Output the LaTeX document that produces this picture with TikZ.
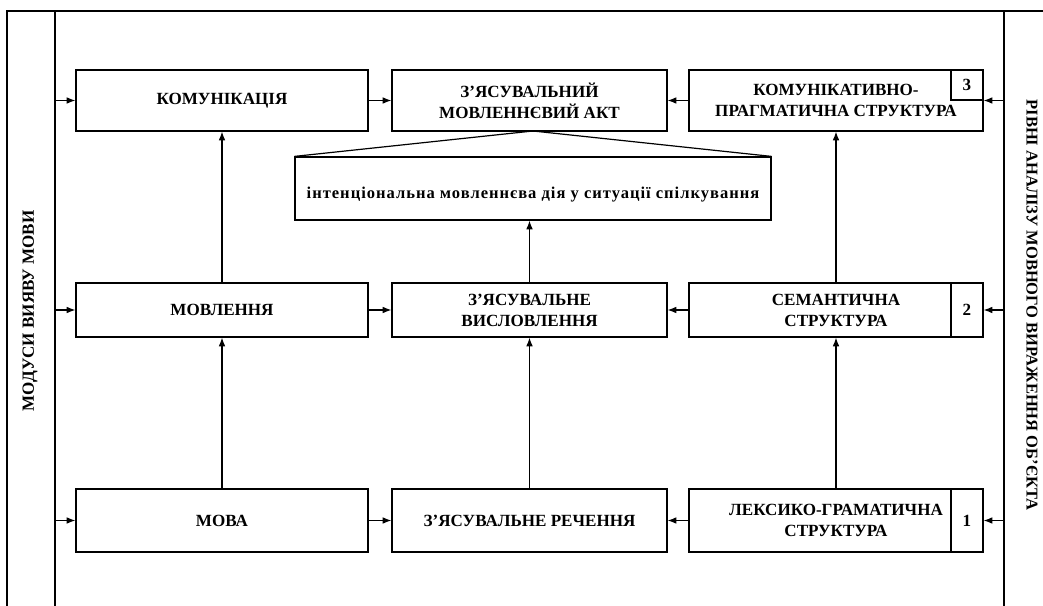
\documentclass[tikz,border=0pt]{standalone}
\usepackage{fontspec}
\setmainfont{Liberation Serif}
\usetikzlibrary{arrows.meta,calc}
\begin{document}
\begin{tikzpicture}[x=0.75pt,y=-0.75pt,
  line width=0.9pt,
  every node/.style={font=\fontsize{12.8}{15.8}\selectfont\bfseries},
  box/.style={draw,rectangle,inner sep=0pt,align=center},
  numbox/.style={draw,rectangle,inner sep=0pt,minimum width=24pt},
  arr/.style={-{Latex[length=6.5pt,width=5pt]}},
  frame/.style={line width=0.9pt}
]
\useasboundingbox (0,0) rectangle (1043,606);
% frame
\coordinate (OL) at (7,11);
\coordinate (OLb) at (7,606);
\coordinate (IL) at (55,11);
\coordinate (ILb) at (55,606);
\coordinate (RL) at (1004,11);
\coordinate (RLb) at (1004,606);
\coordinate (TR) at (1043,11);
\draw[frame] (OLb) -- (OL) -- (TR);
\draw[frame] (IL) -- (ILb);
\draw[frame] (RL) -- (RLb);
% boxes
\node[box,minimum width=219pt,minimum height=45.75pt] (kom) at (222,100.5) {КОМУНІКАЦІЯ};
\node[box,minimum width=206.25pt,minimum height=45.75pt] (zakt) at (529.5,100.5) {З’ЯСУВАЛЬНИЙ\\МОВЛЕННЄВИЙ АКТ};
\node[box,minimum width=220.5pt,minimum height=45.75pt] (kp) at (836,100.5) {КОМУНІКАТИВНО-\\ПРАГМАТИЧНА СТРУКТУРА};
\node[numbox,minimum height=22.5pt,anchor=north east] (n3) at (kp.north east) {3};

\node[box,minimum width=219pt,minimum height=40.5pt] (movl) at (222,310) {МОВЛЕННЯ};
\node[box,minimum width=206.25pt,minimum height=40.5pt] (zvys) at (529.5,310) {З’ЯСУВАЛЬНЕ\\ВИСЛОВЛЕННЯ};
\node[box,minimum width=220.5pt,minimum height=40.5pt] (sem) at (836,310) {СЕМАНТИЧНА\\СТРУКТУРА};
\node[numbox,minimum height=40.5pt,anchor=east] (n2) at (sem.east) {2};

\node[box,minimum width=219pt,minimum height=47.25pt] (mova) at (222,520.5) {МОВА};
\node[box,minimum width=206.25pt,minimum height=47.25pt] (zrech) at (529.5,520.5) {З’ЯСУВАЛЬНЕ РЕЧЕННЯ};
\node[box,minimum width=220.5pt,minimum height=47.25pt] (lex) at (836,520.5) {ЛЕКСИКО-ГРАМАТИЧНА\\СТРУКТУРА};
\node[numbox,minimum height=47.25pt,anchor=east] (n1) at (lex.east) {1};

% intentional box
\node[draw,rectangle,inner sep=0pt,minimum width=357pt,minimum height=47.25pt] (intent) at (533,188.5) {};
\node[font=\fontsize{12.4}{15}\selectfont\bfseries\addfontfeature{LetterSpace=6}] (intenttxt) at (533,195) {інтенціональна мовленнєва дія у ситуації спілкування};
\coordinate (apex) at (533,131);
\draw (intent.north west) -- (apex) -- (intent.north east);

% left arrows
\draw[arr] (kom.west -| IL) -- (kom.west);
\draw[arr] (movl.west -| IL) -- (movl.west);
\draw[arr] (mova.west -| IL) -- (mova.west);
% right arrows
\draw[arr] (kp.east -| RL) -- (kp.east);
\draw[arr] (sem.east -| RL) -- (sem.east);
\draw[arr] (lex.east -| RL) -- (lex.east);
% horizontal arrows
\draw[arr] (kom) -- (zakt);
\draw[arr] (movl) -- (zvys);
\draw[arr] (mova) -- (zrech);
\draw[arr] (kp) -- (zakt);
\draw[arr] (sem) -- (zvys);
\draw[arr] (lex) -- (zrech);
% vertical arrows
\draw[arr] (mova) -- (movl);
\draw[arr] (movl) -- (kom);
\draw[arr] (zrech) -- (zvys);
\draw[arr] (zvys.north) -- (zvys.north |- intent.south);
\draw[arr] (lex.north) -- (sem.south);
\draw[arr] (sem.north) -- (kp.south);

% side labels
\node[rotate=90] (lmod) at (30,311) {МОДУСИ ВИЯВУ МОВИ};
\node[rotate=-90,font=\fontsize{12.4}{15}\selectfont\bfseries] (rriv) at (1032,305) {РІВНІ АНАЛІЗУ МОВНОГО ВИРАЖЕННЯ ОБ’ЄКТА};
\end{tikzpicture}
\end{document}
